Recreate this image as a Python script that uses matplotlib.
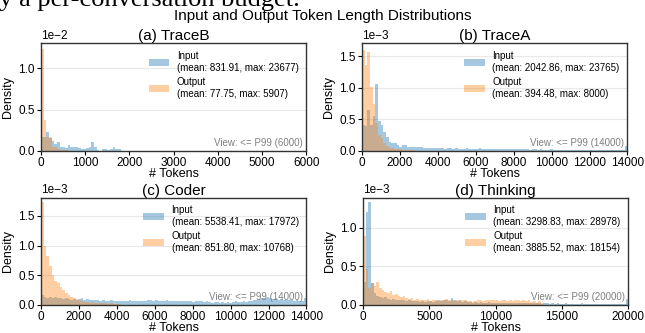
import numpy as np
import matplotlib
matplotlib.use("Agg")
import matplotlib.pyplot as plt

plt.rcParams["font.family"] = ["Liberation Sans", "DejaVu Sans"]

# panel titles, view limits (P99) and bin widths
panel_titles = ["(a) TraceB", "(b) TraceA", "(c) Coder", "(d) Thinking"]
view_limits = [6000, 14000, 14000, 20000]
bin_widths = [60, 140, 140, 200]
y_scales = [1e-2, 1e-3, 1e-3, 1e-3]
input_labels = [
    "Input\n(mean: 831.91, max: 23677)",
    "Input\n(mean: 2042.86, max: 23765)",
    "Input\n(mean: 5538.41, max: 17972)",
    "Input\n(mean: 3298.83, max: 28978)",
]
output_labels = [
    "Output\n(mean: 77.75, max: 5907)",
    "Output\n(mean: 394.48, max: 8000)",
    "Output\n(mean: 851.80, max: 10768)",
    "Output\n(mean: 3885.52, max: 18154)",
]

# bin heights, in units of y_scales (one value per bin from 0)
traceb_input = [0.17, 0.17, 0.23, 0.16, 0.12, 0.08, 0.10, 0.05, 0.05, 0.03,
                0.07, 0.05, 0.04, 0.04, 0.03, 0.02, 0.02, 0.03, 0.05, 0.10,
                0.05, 0.01, 0.00, 0.02, 0.02, 0.01, 0.02, 0.04, 0.02, 0.02]
traceb_output = [1.23, 0.37, 0.17, 0.17, 0.05, 0.04, 0.02, 0.01, 0.01, 0.01]

tracea_input = [0.41, 0.40, 0.65, 0.41, 0.55, 1.06, 0.47, 0.41, 0.29, 0.22,
                0.14, 0.13, 0.12, 0.09, 0.065, 0.09, 0.09, 0.065, 0.065, 0.06,
                0.06, 0.055, 0.06, 0.05, 0.05, 0.045, 0.05, 0.04, 0.045, 0.04,
                0.04, 0.035, 0.04, 0.045, 0.035, 0.04, 0.03, 0.035, 0.03, 0.04,
                0.03, 0.035, 0.03, 0.03, 0.045, 0.03, 0.025, 0.03, 0.03, 0.025,
                0.03, 0.025, 0.02, 0.025, 0.03, 0.02, 0.025, 0.02, 0.02, 0.025,
                0.02, 0.02, 0.025, 0.015, 0.02, 0.02, 0.015, 0.02, 0.015, 0.015,
                0.015, 0.02, 0.015, 0.01, 0.015, 0.015, 0.01, 0.015, 0.01, 0.01,
                0.01, 0.015, 0.01, 0.01, 0.01, 0.005, 0.01, 0.01, 0.005, 0.01,
                0.005, 0.01, 0.005, 0.005, 0.01, 0.005, 0.005, 0.005, 0.005, 0.075]
tracea_output = [1.61, 1.37, 1.57, 1.02, 0.75, 0.44, 0.25, 0.20, 0.12, 0.08,
                 0.05, 0.04, 0.03, 0.02, 0.02, 0.01, 0.01, 0.01, 0.005, 0.005]

coder_input = [0.17, 0.13, 0.12, 0.14, 0.12, 0.13, 0.11, 0.12, 0.10, 0.11,
               0.10, 0.09, 0.10, 0.09, 0.10, 0.11, 0.09, 0.10, 0.08, 0.09,
               0.09, 0.08, 0.07, 0.08, 0.06, 0.07, 0.08, 0.06, 0.07, 0.07,
               0.06, 0.07, 0.06, 0.08, 0.07, 0.06, 0.07, 0.07, 0.06, 0.07,
               0.08, 0.08, 0.07, 0.08, 0.07, 0.06, 0.07, 0.08, 0.07, 0.06,
               0.07, 0.07, 0.06, 0.07, 0.06, 0.07, 0.06, 0.05, 0.06, 0.07,
               0.06, 0.05, 0.06, 0.05, 0.04, 0.05, 0.05, 0.04, 0.05, 0.04,
               0.05, 0.04, 0.05, 0.06, 0.05, 0.05, 0.06, 0.05, 0.06, 0.07,
               0.08, 0.09, 0.10, 0.12, 0.11, 0.13, 0.12, 0.10, 0.11, 0.09,
               0.10, 0.09, 0.08, 0.09, 0.08, 0.07, 0.08, 0.07, 0.06, 0.11]
coder_output = [1.74, 0.99, 0.82, 0.65, 0.51, 0.40, 0.37, 0.31, 0.25, 0.20,
                0.17, 0.14, 0.11, 0.10, 0.08, 0.06, 0.05, 0.05, 0.04, 0.05,
                0.04, 0.04, 0.03, 0.04, 0.03, 0.02, 0.03, 0.02, 0.02, 0.02]

thinking_input = [0.30, 1.20, 1.33, 0.28, 0.15, 0.12, 0.10, 0.09, 0.10, 0.08,
                  0.07, 0.08, 0.06, 0.07, 0.06, 0.06, 0.05, 0.06, 0.05, 0.05,
                  0.05, 0.04, 0.05, 0.04, 0.05, 0.05, 0.04, 0.05, 0.06, 0.05,
                  0.06, 0.07, 0.05, 0.09, 0.06, 0.05, 0.07, 0.04, 0.05, 0.04,
                  0.04, 0.03, 0.04, 0.03, 0.04, 0.03, 0.03, 0.04, 0.03, 0.03,
                  0.03, 0.02, 0.03, 0.03, 0.02, 0.03, 0.02, 0.03, 0.02, 0.02,
                  0.02, 0.02, 0.03, 0.02, 0.02, 0.02, 0.02, 0.01, 0.02, 0.02,
                  0.01, 0.02, 0.01, 0.02, 0.01, 0.01, 0.02, 0.01, 0.01, 0.01,
                  0.01, 0.01, 0.02, 0.01, 0.01, 0.01, 0.01, 0.01, 0.01, 0.01,
                  0.01, 0.01, 0.01, 0.01, 0.01, 0.01, 0.01, 0.01, 0.01, 0.08]
thinking_output = [0.89, 0.46, 0.22, 0.28, 0.25, 0.30, 0.22, 0.20, 0.17, 0.15,
                   0.18, 0.13, 0.14, 0.11, 0.10, 0.12, 0.09, 0.08, 0.09, 0.07,
                   0.08, 0.06, 0.07, 0.06, 0.08, 0.05, 0.06, 0.07, 0.05, 0.06,
                   0.07, 0.08, 0.06, 0.07, 0.05, 0.06, 0.05, 0.06, 0.07, 0.05,
                   0.05, 0.04, 0.05, 0.06, 0.07, 0.05, 0.06, 0.07, 0.06, 0.07,
                   0.06, 0.05, 0.06, 0.07, 0.05, 0.06, 0.05, 0.06, 0.07, 0.05,
                   0.06, 0.05, 0.06, 0.04, 0.05, 0.03, 0.05, 0.02]

inputs = [traceb_input, tracea_input, coder_input, thinking_input]
outputs = [traceb_output, tracea_output, coder_output, thinking_output]
y_tops = [1.305, 1.71, 1.81, 1.39]
x_steps = [1000, 2000, 2000, 5000]

BLUE = "#1f77b4"
ORANGE = "#ff7f0e"

fig = plt.figure(figsize=(6.45, 3.33), dpi=100)

# panel boxes [left, bottom, width, height] in figure fractions
# (left edges put on whole pixels so the first narrow bar is not hidden by the spine)
lefts = [41 / 645, 362 / 645, 41 / 645, 363 / 645]
bottoms = [0.5474, 0.5474, 0.0841, 0.0841]
width = 0.4115
height = 0.3226

# tail of the paper text above the figure, cut by the crop
fig.text(-0.022, 0.982, "by a per-conversation budget.", family="Liberation Serif",
         fontsize=19, va="baseline", ha="left")
fig.suptitle("Input and Output Token Length Distributions", fontsize=11, y=0.952, va="center")

for i in range(4):
    ax = fig.add_axes([lefts[i], bottoms[i], width, height])
    w = bin_widths[i]
    s = y_scales[i]
    xin = np.arange(len(inputs[i])) * w
    xout = np.arange(len(outputs[i])) * w
    ax.bar(xin, np.array(inputs[i]) * s, width=w, align="edge", color=BLUE, alpha=0.4,
           linewidth=0, label=input_labels[i])
    ax.bar(xout, np.array(outputs[i]) * s, width=w, align="edge", color=ORANGE, alpha=0.38,
           linewidth=0, label=output_labels[i])

    ax.set_xlim(0, view_limits[i])
    ax.set_ylim(0, y_tops[i] * s)
    ax.set_xticks(np.arange(0, view_limits[i] + 1, x_steps[i]))
    ax.ticklabel_format(axis="y", style="sci", scilimits=(0, 0))
    ax.yaxis.get_offset_text().set_fontsize(8.5)
    ax.tick_params(labelsize=8.5, length=3, width=0.8, pad=1.5)
    ax.grid(axis="y", color="#e8e8e8", linewidth=0.8)
    ax.set_axisbelow(True)
    for sp in ax.spines.values():
        sp.set_color("#333333")
        sp.set_linewidth(1.0)

    ax.set_title(panel_titles[i], fontsize=11, pad=2)
    ax.set_xlabel("# Tokens", fontsize=9, labelpad=-0.5 if i < 2 else -0.9)
    ax.set_ylabel("Density", fontsize=9, labelpad=3)
    ax.legend(loc="upper right", frameon=False, fontsize=7, handlelength=2.1,
              handleheight=0.75, labelspacing=0.45, borderaxespad=0.4)
    ax.text(0.988, 0.025, "View: <= P99 (%d)" % view_limits[i], transform=ax.transAxes,
            ha="right", va="bottom", fontsize=7, color="#808080")

fig.savefig("out.png", dpi=100)
